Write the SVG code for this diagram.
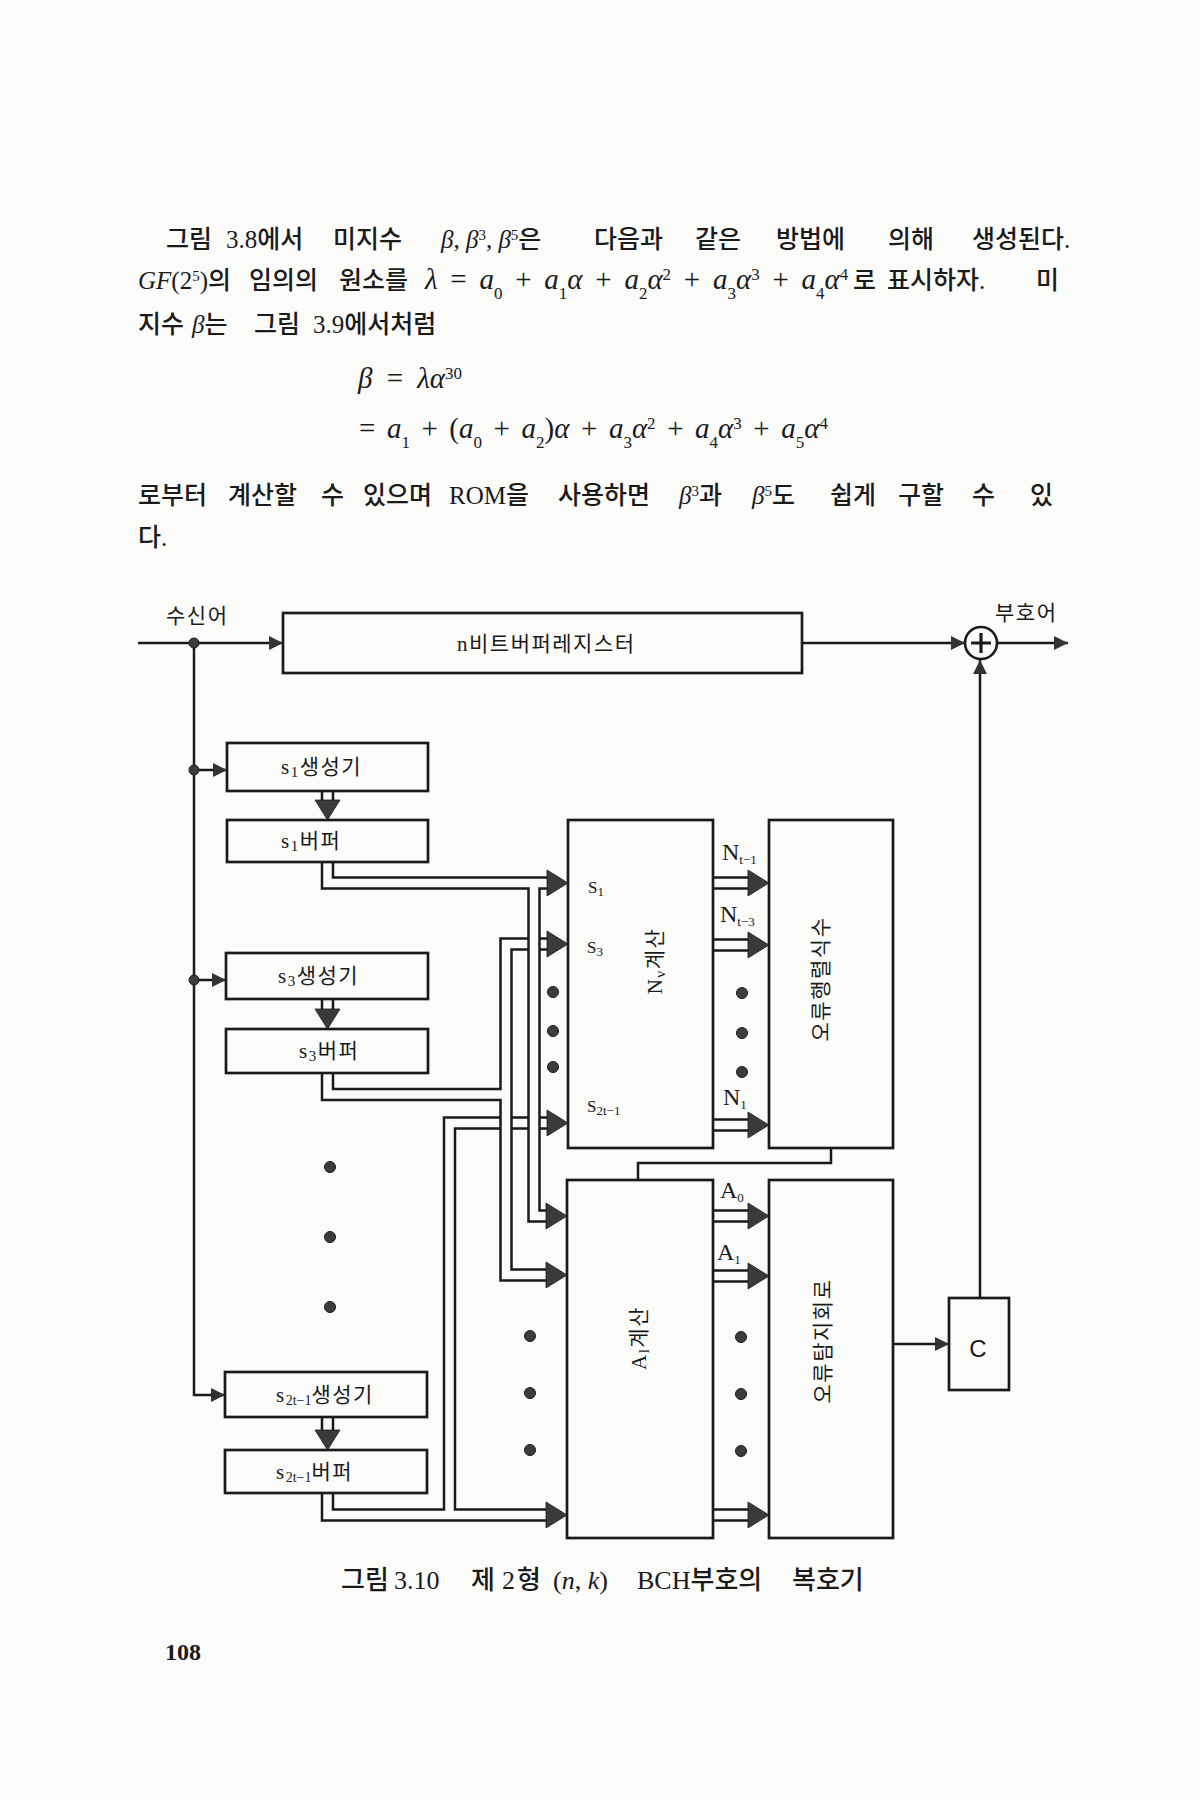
<svg xmlns="http://www.w3.org/2000/svg" width="1200" height="1800" viewBox="0 0 1200 1800">
<style>
.bg{fill:#fbfbfa}
.t{font-family:"Liberation Serif","Noto Sans CJK KR",serif;fill:#1a1a1a}
.p{font-size:25px;font-weight:500}
.m{font-size:29px;font-weight:400}
.i{font-style:italic}
.box{fill:none;stroke:#1a1a1a;stroke-width:2.7}
.w{fill:none;stroke:#1a1a1a;stroke-width:2.5}
.ah{fill:#3a3a3a;stroke:#1a1a1a;stroke-width:0.8}
.dot{fill:#3c3c3c;stroke:#1a1a1a;stroke-width:1}
.lb{font-size:21px;letter-spacing:1.5px}
.sl{font-size:17px}
.nl{font-size:24px}
.cap{font-size:26px;font-weight:500}
</style>
<defs>
<marker id="a" viewBox="0 0 14 14" refX="14" refY="7" markerWidth="14" markerHeight="14" markerUnits="userSpaceOnUse" orient="auto">
<path d="M0,0 L14,7 L0,14 z" fill="#333"/>
</marker>
<polygon id="bt" class="ah" points="-21,-13 0,0 -21,13"/>
<polygon id="bd" class="ah" points="-12.5,-20 12.5,-20 0,0"/>
</defs>
<rect class="bg" x="0" y="0" width="1200" height="1800"/>

<g id="paragraph" class="t p">
<text y="248"><tspan x="166">그림</tspan><tspan x="226">3.8에서</tspan><tspan x="333">미지수</tspan><tspan x="441"><tspan class="i">β</tspan>, <tspan class="i">β</tspan><tspan font-size="15" baseline-shift="super">3</tspan>, <tspan class="i">β</tspan><tspan font-size="15" baseline-shift="super">5</tspan>은</tspan><tspan x="594">다음과</tspan><tspan x="695">같은</tspan><tspan x="776">방법에</tspan><tspan x="888">의해</tspan><tspan x="972">생성된다.</tspan></text>
<text y="289"><tspan x="138"><tspan class="i">GF</tspan>(2<tspan font-size="15" baseline-shift="super">5</tspan>)의</tspan><tspan x="249">임의의</tspan><tspan x="339">원소를</tspan></text>
<text class="m" x="425" y="289" word-spacing="5.5"><tspan class="i">λ</tspan> = <tspan class="i">a</tspan><tspan font-size="17" baseline-shift="sub">0</tspan> + <tspan class="i">a</tspan><tspan font-size="17" baseline-shift="sub">1</tspan><tspan class="i">α</tspan> + <tspan class="i">a</tspan><tspan font-size="17" baseline-shift="sub">2</tspan><tspan class="i">α</tspan><tspan font-size="17" baseline-shift="super">2</tspan> + <tspan class="i">a</tspan><tspan font-size="17" baseline-shift="sub">3</tspan><tspan class="i">α</tspan><tspan font-size="17" baseline-shift="super">3</tspan> + <tspan class="i">a</tspan><tspan font-size="17" baseline-shift="sub">4</tspan><tspan class="i">α</tspan><tspan font-size="17" baseline-shift="super">4</tspan></text>
<text y="289"><tspan x="853">로</tspan><tspan x="887">표시하자.</tspan><tspan x="1036">미</tspan></text>
<text y="333"><tspan x="138">지수</tspan><tspan x="192"><tspan class="i">β</tspan>는</tspan><tspan x="254">그림</tspan><tspan x="313">3.9에서처럼</tspan></text>
<text class="m" x="358" y="388" word-spacing="7"><tspan class="i">β</tspan> = <tspan class="i">λα</tspan><tspan font-size="17" baseline-shift="super">30</tspan></text>
<text class="m" x="359" y="438" word-spacing="4.3">= <tspan class="i">a</tspan><tspan font-size="17" baseline-shift="sub">1</tspan> + (<tspan class="i">a</tspan><tspan font-size="17" baseline-shift="sub">0</tspan> + <tspan class="i">a</tspan><tspan font-size="17" baseline-shift="sub">2</tspan>)<tspan class="i">α</tspan> + <tspan class="i">a</tspan><tspan font-size="17" baseline-shift="sub">3</tspan><tspan class="i">α</tspan><tspan font-size="17" baseline-shift="super">2</tspan> + <tspan class="i">a</tspan><tspan font-size="17" baseline-shift="sub">4</tspan><tspan class="i">α</tspan><tspan font-size="17" baseline-shift="super">3</tspan> + <tspan class="i">a</tspan><tspan font-size="17" baseline-shift="sub">5</tspan><tspan class="i">α</tspan><tspan font-size="17" baseline-shift="super">4</tspan></text>
<text y="504"><tspan x="138">로부터</tspan><tspan x="228">계산할</tspan><tspan x="321">수</tspan><tspan x="363">있으며</tspan><tspan x="449">ROM을</tspan><tspan x="558">사용하면</tspan><tspan x="679"><tspan class="i">β</tspan><tspan font-size="15" baseline-shift="super">3</tspan>과</tspan><tspan x="752"><tspan class="i">β</tspan><tspan font-size="15" baseline-shift="super">5</tspan>도</tspan><tspan x="830">쉽게</tspan><tspan x="898">구할</tspan><tspan x="972">수</tspan><tspan x="1030">있</tspan></text>
<text x="138" y="546">다.</text>
</g>

<g id="io-labels" class="t lb">
<text x="166" y="623">수신어</text>
<text x="995" y="620">부호어</text>
</g>

<g id="nbit">
<rect class="box" x="283" y="613" width="519" height="60"/>
<text class="t lb" x="457" y="651" letter-spacing="2.2">n비트버퍼레지스터</text>
</g>

<g id="xor">
<circle cx="981" cy="643" r="16" fill="none" stroke="#1a1a1a" stroke-width="2.6"/>
<path d="M971,643 H991 M981,633 V653" stroke="#1a1a1a" stroke-width="3.2"/>
</g>

<g id="s1gen"><rect class="box" x="227" y="743" width="201" height="48"/>
<text class="t lb" x="281" y="774">s<tspan font-size="15" baseline-shift="-3">1</tspan>생성기</text></g>
<g id="s1buf"><rect class="box" x="227" y="820" width="201" height="42"/>
<text class="t lb" x="281" y="848">s<tspan font-size="15" baseline-shift="-3">1</tspan>버퍼</text></g>
<g id="s3gen"><rect class="box" x="226" y="953" width="202" height="46"/>
<text class="t lb" x="278" y="983">s<tspan font-size="15" baseline-shift="-3">3</tspan>생성기</text></g>
<g id="s3buf"><rect class="box" x="226" y="1029" width="202" height="44"/>
<text class="t lb" x="299" y="1058">s<tspan font-size="15" baseline-shift="-3">3</tspan>버퍼</text></g>
<g id="s2gen"><rect class="box" x="225" y="1372" width="202" height="45"/>
<text class="t lb" x="276" y="1402">s<tspan font-size="14" baseline-shift="-3" letter-spacing="0">2t−1</tspan>생성기</text></g>
<g id="s2buf"><rect class="box" x="225" y="1450" width="202" height="43"/>
<text class="t lb" x="276" y="1479">s<tspan font-size="14" baseline-shift="-3" letter-spacing="0">2t−1</tspan>버퍼</text></g>

<g id="ncalc"><rect class="box" x="568" y="820" width="145" height="328"/>
<text class="t sl" x="588" y="893">S<tspan font-size="13" baseline-shift="-3">1</tspan></text>
<text class="t sl" x="587" y="953">S<tspan font-size="13" baseline-shift="-3">3</tspan></text>
<text class="t sl" x="587" y="1112">S<tspan font-size="13" baseline-shift="-3">2t−1</tspan></text>
<text class="t lb" transform="translate(654,961) rotate(-90)" x="0" y="8" text-anchor="middle">N<tspan font-size="15" baseline-shift="-3">ν</tspan>계산</text>
</g>
<g id="errpoly"><rect class="box" x="769" y="820" width="124" height="328"/>
<text class="t lb" transform="translate(820,979) rotate(-90)" x="0" y="8" text-anchor="middle">오류행렬식수</text></g>
<g id="acalc"><rect class="box" x="567" y="1180" width="146" height="358"/>
<text class="t lb" transform="translate(638,1338) rotate(-90)" x="0" y="8" text-anchor="middle">A<tspan font-size="15" baseline-shift="-3">l</tspan>계산</text></g>
<g id="detect"><rect class="box" x="769" y="1180" width="124" height="358"/>
<text class="t lb" transform="translate(822,1341) rotate(-90)" x="0" y="8" text-anchor="middle">오류탐지회로</text></g>
<g id="cbox"><rect class="box" x="949" y="1298" width="60" height="92"/>
<text x="978" y="1357" font-family="Liberation Sans, sans-serif" font-size="24" fill="#1a1a1a" text-anchor="middle">C</text></g>

<g id="bus-labels" class="t nl">
<text x="722" y="860">N<tspan font-size="13" baseline-shift="-4">t−1</tspan></text>
<text x="720" y="922">N<tspan font-size="13" baseline-shift="-4">t−3</tspan></text>
<text x="723" y="1105">N<tspan font-size="13" baseline-shift="-4">1</tspan></text>
<text x="720" y="1198">A<tspan font-size="13" baseline-shift="-4">0</tspan></text>
<text x="717" y="1260">A<tspan font-size="13" baseline-shift="-4">1</tspan></text>
</g>

<g id="connectors">
<path class="w" d="M138,643 H283" marker-end="url(#a)"/>
<path class="w" d="M194,643 V1395 H225" marker-end="url(#a)"/>
<path class="w" d="M194,770 H227" marker-end="url(#a)"/>
<path class="w" d="M194,980 H226" marker-end="url(#a)"/>
<path class="w" d="M802,643 H965" marker-end="url(#a)"/>
<path class="w" d="M997,643 H1068" marker-end="url(#a)"/>
<path class="w" d="M980,1298 V660" marker-end="url(#a)"/>
<path class="w" d="M893,1344 H949" marker-end="url(#a)"/>
<path class="w" d="M831,1148 V1163 H638 V1180"/>
<circle class="dot" cx="194" cy="643" r="5"/>
<circle class="dot" cx="194" cy="770" r="5"/>
<circle class="dot" cx="194" cy="980" r="5"/>

<path class="w" d="M322,791 V801 M333,791 V801"/>
<use href="#bd" x="327.5" y="820"/>
<path class="w" d="M322,999 V1009 M333,999 V1009"/>
<use href="#bd" x="327.5" y="1029"/>
<path class="w" d="M322,1417 V1430 M333,1417 V1430"/>
<use href="#bd" x="327.5" y="1450"/>

<path class="w" d="M333,862 V877.5 H548"/>
<path class="w" d="M322,862 V888.5 H528.5 V1221.5 H547"/>
<path class="w" d="M548,888.5 H539.5 V1210.5 H547"/>
<use href="#bt" x="568" y="883"/>
<use href="#bt" x="567" y="1216"/>

<path class="w" d="M333,1073 V1089 H500.5 V938.5 H528.5 M539.5,938.5 H548"/>
<path class="w" d="M322,1073 V1100 H500.5 V1280.5 H547"/>
<path class="w" d="M548,949.5 H539.5 M528.5,949.5 H511.5 V1269.5 H547"/>
<use href="#bt" x="568" y="944"/>
<use href="#bt" x="567" y="1275"/>

<path class="w" d="M322,1493 V1520.5 H547"/>
<path class="w" d="M333,1493 V1509.5 H444 V1117.5 H500.5 M511.5,1117.5 H528.5 M539.5,1117.5 H548"/>
<path class="w" d="M547,1509.5 H455 V1128.5 H500.5 M511.5,1128.5 H528.5 M539.5,1128.5 H548"/>
<use href="#bt" x="568" y="1123"/>
<use href="#bt" x="567" y="1515"/>

<path class="w" d="M713,877.5 H749 M713,888.5 H749"/>
<use href="#bt" x="769" y="883"/>
<path class="w" d="M713,939.5 H749 M713,950.5 H749"/>
<use href="#bt" x="769" y="945"/>
<path class="w" d="M713,1119.5 H749 M713,1130.5 H749"/>
<use href="#bt" x="769" y="1125"/>
<path class="w" d="M713,1210.5 H749 M713,1221.5 H749"/>
<use href="#bt" x="769" y="1216"/>
<path class="w" d="M713,1270.5 H749 M713,1281.5 H749"/>
<use href="#bt" x="769" y="1276"/>
<path class="w" d="M713,1509.5 H749 M713,1520.5 H749"/>
<use href="#bt" x="769" y="1515"/>
</g>

<g id="ellipses">
<circle class="dot" cx="330" cy="1167" r="5.5"/>
<circle class="dot" cx="330" cy="1237" r="5.5"/>
<circle class="dot" cx="330" cy="1307" r="5.5"/>
<circle class="dot" cx="553" cy="992" r="5.5"/>
<circle class="dot" cx="553" cy="1031" r="5.5"/>
<circle class="dot" cx="553" cy="1067" r="5.5"/>
<circle class="dot" cx="742" cy="993" r="5.5"/>
<circle class="dot" cx="742" cy="1033" r="5.5"/>
<circle class="dot" cx="742" cy="1072" r="5.5"/>
<circle class="dot" cx="530" cy="1336" r="5.5"/>
<circle class="dot" cx="530" cy="1393" r="5.5"/>
<circle class="dot" cx="530" cy="1450" r="5.5"/>
<circle class="dot" cx="741" cy="1337" r="5.5"/>
<circle class="dot" cx="741" cy="1394" r="5.5"/>
<circle class="dot" cx="741" cy="1451" r="5.5"/>
</g>

<g id="caption" class="t cap">
<text y="1589"><tspan x="341">그림</tspan><tspan x="394">3.10</tspan><tspan x="471">제</tspan><tspan x="502">2</tspan><tspan x="517">형</tspan><tspan x="553">(<tspan class="i">n</tspan>, <tspan class="i">k</tspan>)</tspan><tspan x="637">BCH부호의</tspan><tspan x="792">복호기</tspan></text>
</g>
<text class="t" x="165" y="1660" font-size="24" font-weight="bold">108</text>
</svg>
